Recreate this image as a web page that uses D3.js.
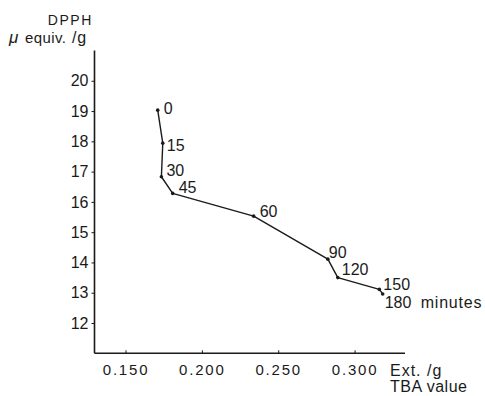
<!DOCTYPE html>
<html>
<head>
<meta charset="utf-8">
<script src="https://cdn.jsdelivr.net/npm/d3@7"></script>
<style>
  html, body { margin: 0; padding: 0; background: #fff; }
  svg { display: block; }
  text { font-family: "Liberation Sans", Arial, sans-serif; fill: #1a1a1a; }
</style>
</head>
<body>
<svg id="chart" width="485" height="396"></svg>
<script>
// Heating time (minutes) at each sampled point
const times = [0, 15, 30, 45, 60, 90, 120, 150, 180];
// TBA value (Ext./g)
const tbaValues = [0.1711, 0.1744, 0.1735, 0.1809, 0.2339, 0.2825, 0.2890, 0.3162, 0.3184];
// DPPH consumption (μ equiv./g)
const dpphValues = [19.03, 17.94, 16.83, 16.28, 15.53, 14.11, 13.50, 13.11, 12.96];
// Axis tick values
const xTicks = [0.150, 0.200, 0.250, 0.300];
const yTicks = [12, 13, 14, 15, 16, 17, 18, 19, 20];

// Label placement offsets (pixels) for each time label, relative to its point
const labelDx = [6, 4, 5, 6, 6, 1, 4, 4, 2];
const labelDy = [-2, 2, -7, -6, -5, -7, -8, -5, 8];

const svg = d3.select("#chart");

const x = d3.scaleLinear().domain([0.1297, 0.333]).range([94.5, 405]);
const y = d3.scaleLinear().domain([11, 21]).range([353.3, 50.5]);

// Y axis
const yAxis = d3.axisLeft(y).tickValues(yTicks).tickSize(3).tickPadding(3).tickFormat(d3.format("d"));
const gy = svg.append("g").attr("transform", `translate(${x(0.1297)},0)`).call(yAxis);
gy.select(".domain").attr("d", `M0,${y(21)}V${y(11)}`).attr("stroke", "#1a1a1a").attr("stroke-width", 1.6);
gy.selectAll(".tick line").attr("stroke", "#1a1a1a").attr("stroke-width", 1);
gy.selectAll(".tick text").attr("font-size", 16).attr("font-family", "Liberation Sans, Arial, sans-serif").attr("fill", "#1a1a1a");

// X axis
const xAxis = d3.axisBottom(x).tickValues(xTicks).tickSize(-3).tickPadding(11).tickFormat(d3.format(".3f"));
const gx = svg.append("g").attr("transform", `translate(0,${y(11)})`).call(xAxis);
gx.select(".domain").attr("d", `M${x(0.1297)},0H${x(0.333)}`).attr("stroke", "#1a1a1a").attr("stroke-width", 1.6);
gx.selectAll(".tick line").attr("stroke", "#1a1a1a").attr("stroke-width", 1);
gx.selectAll(".tick text").attr("font-size", 15).attr("letter-spacing", 1.8)
  .attr("font-family", "Liberation Sans, Arial, sans-serif").attr("fill", "#1a1a1a");

// Axis titles
svg.append("text").attr("x", 93).attr("y", 25).attr("text-anchor", "end")
  .attr("font-size", 14).attr("letter-spacing", 1.6).text("DPPH");
const yUnit = svg.append("text").attr("y", 43).attr("font-size", 15);
yUnit.append("tspan").attr("x", 9).attr("font-size", 17).attr("font-style", "italic").text("μ");
yUnit.append("tspan").attr("x", 25).attr("letter-spacing", 0.4).text("equiv.");
yUnit.append("tspan").attr("x", 72).attr("font-size", 16).attr("letter-spacing", 0.8).text("/g");
svg.append("text").attr("x", 390).attr("y", 376)
  .attr("font-size", 16).attr("letter-spacing", 1).text("Ext. /g");
svg.append("text").attr("x", 390).attr("y", 392)
  .attr("font-size", 16).attr("letter-spacing", 0.5).text("TBA value");

// Data line
const pts = times.map((t, i) => ({ t, xv: tbaValues[i], yv: dpphValues[i], dx: labelDx[i], dy: labelDy[i] }));
const line = d3.line().x(d => x(d.xv)).y(d => y(d.yv));
svg.append("path").datum(pts).attr("d", line)
  .attr("fill", "none").attr("stroke", "#1a1a1a").attr("stroke-width", 1.4).attr("stroke-linejoin", "round");

svg.selectAll("circle.pt").data(pts).join("circle").attr("class", "pt")
  .attr("cx", d => x(d.xv)).attr("cy", d => y(d.yv)).attr("r", 1.8).attr("fill", "#1a1a1a");

// Time labels
svg.selectAll("text.lbl").data(pts).join("text").attr("class", "lbl")
  .attr("x", d => x(d.xv) + d.dx).attr("y", d => y(d.yv) + d.dy)
  .attr("dy", "0.36em").attr("font-size", 16)
  .text(d => d.t);

// Unit after the final time label
const last = pts[pts.length - 1];
svg.append("text").attr("x", x(last.xv) + last.dx + 36).attr("y", y(last.yv) + last.dy)
  .attr("dy", "0.36em").attr("font-size", 16).attr("letter-spacing", 0.8).text("minutes");
</script>
</body>
</html>
